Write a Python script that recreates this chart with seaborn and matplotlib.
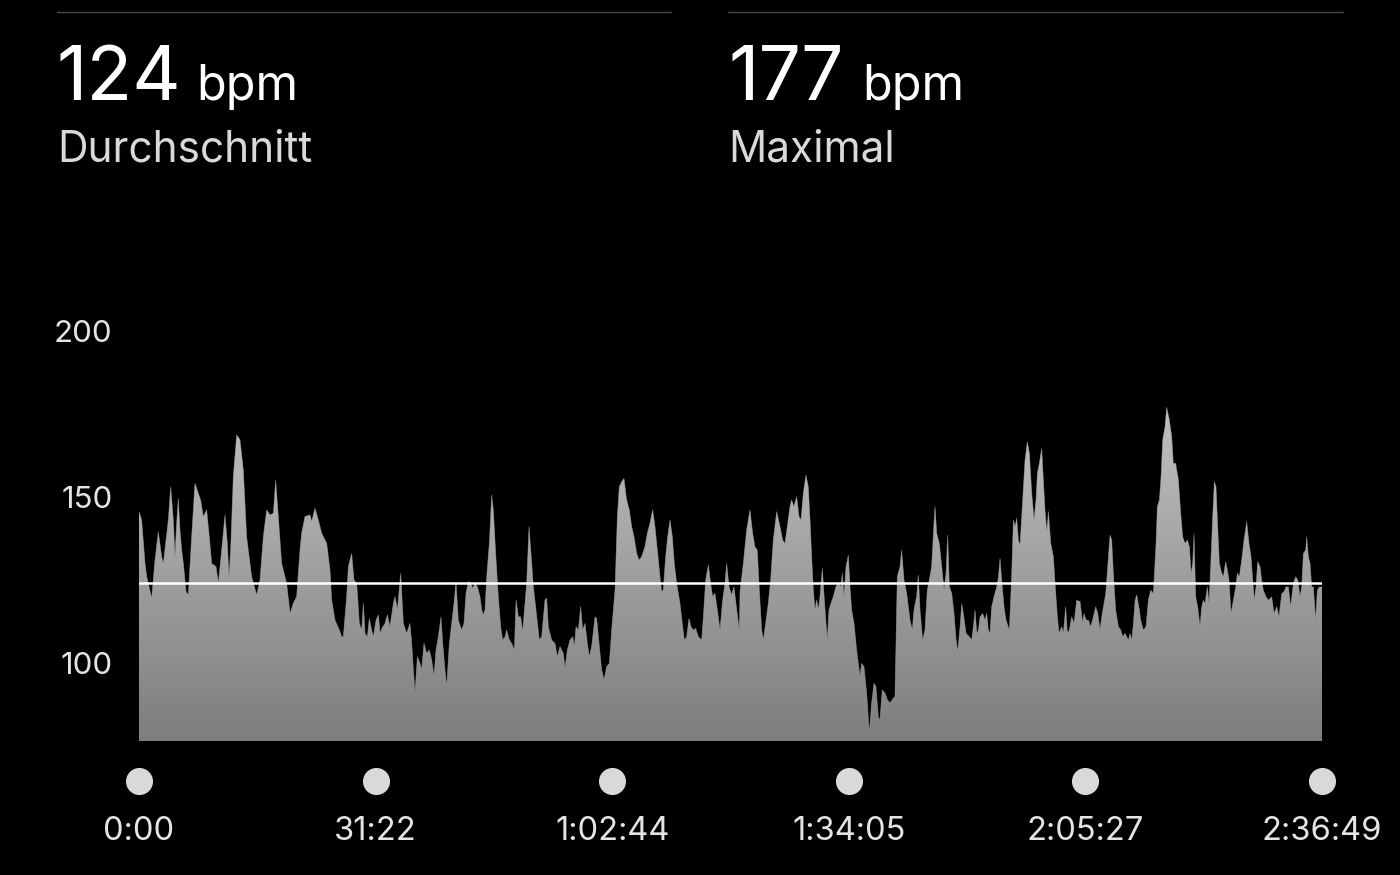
import matplotlib.pyplot as plt
import seaborn as sns
import numpy as np
import pandas as pd
from matplotlib.colors import LinearSegmentedColormap
from matplotlib.lines import Line2D
from matplotlib.transforms import blended_transform_factory

sns.set_theme(style="dark")
plt.rcParams['font.family'] = ['Inter', 'DejaVu Sans']

# Heart rate samples (time in minutes, bpm)
minutes = [
    0.0, 0.35, 0.8, 1.02, 1.68, 2.12, 2.56, 3.0, 3.23, 3.58,
    3.89, 4.2, 4.55, 4.77, 4.99, 5.21, 5.43, 5.66, 5.88, 6.23,
    6.54, 6.98, 7.42, 7.86, 8.17, 8.53, 8.97, 9.32, 9.63, 10.21,
    10.52, 10.96, 11.4, 11.71, 11.93, 12.15, 12.5, 12.95, 13.39, 13.83,
    14.27, 14.93, 15.6, 16.04, 16.48, 16.92, 17.36, 17.81, 18.12, 18.47,
    18.91, 19.57, 20.02, 20.46, 20.9, 21.34, 21.56, 22.0, 22.67, 22.89,
    23.33, 23.77, 24.21, 24.88, 25.32, 25.54, 25.98, 26.56,
    26.87, 27.09, 27.53, 27.75, 28.19, 28.5, 28.86, 29.21, 29.52, 29.74,
    29.96, 30.27, 30.53, 30.84, 31.06, 31.42, 31.73, 31.95, 32.3, 32.61,
    32.92, 33.27, 33.72, 33.94, 34.25, 34.69, 35.04, 35.48, 35.92, 36.15,
    36.37, 36.59, 36.9, 37.25, 37.47, 37.78, 38.13, 38.49, 38.8, 39.11,
    39.37, 39.68, 40.03, 40.26, 40.56, 40.79, 41.14, 41.45, 41.76, 42.02,
    42.33, 42.77, 43.08, 43.35, 43.66, 43.97, 44.23, 44.54, 44.85, 45.2,
    45.43, 45.65, 45.87, 46.09, 46.44, 46.75, 46.97, 47.28, 47.63, 47.94,
    48.21, 48.52, 48.74, 49.09, 49.4, 49.76, 49.98, 50.29, 50.59, 50.86,
    51.17, 51.39, 51.7, 51.96, 52.28, 52.72, 53.07,
    53.38, 53.82, 54.04, 54.26, 54.7, 55.14, 55.45, 55.81, 56.25, 56.47,
    56.78, 57.13, 57.49, 57.71, 57.93, 58.24, 58.55, 58.81, 59.12, 59.43,
    59.7, 60.0, 60.45, 60.67, 60.98, 61.33, 61.64, 62.0, 62.35, 62.66,
    63.1, 63.41, 63.67, 63.98, 64.29, 64.64, 65.0, 65.31, 65.62, 65.97,
    66.28, 66.63, 67.07, 67.38, 67.74, 68.09, 68.4, 68.71, 69.06, 69.28,
    69.5, 69.81, 70.08, 70.39, 70.7, 70.96, 71.27, 71.71, 72.07, 72.29,
    72.6, 72.91, 73.17, 73.48, 73.79, 74.14, 74.59, 74.81, 75.12, 75.47,
    75.78, 76.04, 76.35, 76.66, 77.02, 77.37, 77.68, 77.9, 78.21, 78.56,
    78.87, 79.23, 79.58,
    79.67, 80.11, 80.55, 80.99, 81.34, 81.65, 81.96, 82.23, 82.54, 82.76,
    83.07, 83.42, 83.73, 84.08, 84.53, 84.97, 85.32, 85.63, 85.94, 86.29,
    86.51, 86.82, 87.18, 87.49, 87.75, 88.06, 88.41, 88.72, 88.95, 89.17,
    89.39, 89.61, 89.83, 90.05, 90.27, 90.58, 90.85, 91.07, 91.24, 91.46,
    91.73, 92.04, 92.39, 92.7, 93.05, 93.23, 93.45, 93.72, 94.03, 94.25,
    94.47, 94.78, 95.13, 95.57, 95.79, 96.1, 96.46, 96.81, 97.12, 97.43,
    97.69, 98.0, 98.22, 98.53, 98.89, 99.2, 99.55, 99.99, 100.21, 100.52,
    100.88, 101.1, 101.41, 101.76, 102.2, 102.51, 102.73, 103.08, 103.31, 103.53,
    103.88, 104.19, 104.5, 104.76, 105.07, 105.38, 105.52, 105.74, 106.09,
    106.41, 106.72, 106.98, 107.2, 107.42, 107.73, 108.04, 108.31, 108.53, 108.84,
    109.06, 109.28, 109.63, 110.07, 110.38, 110.6, 110.83, 111.05, 111.27, 111.49,
    111.84, 112.15, 112.37, 112.59, 112.81, 113.03, 113.34, 113.7, 113.92, 114.14,
    114.36, 114.67, 114.93, 115.38, 115.69, 115.91, 116.13, 116.35, 116.57, 116.79,
    117.14, 117.45, 117.76, 118.03, 118.34, 118.65, 118.91, 119.09, 119.35, 119.66,
    119.88, 120.1, 120.33, 120.55, 120.86, 121.21, 121.43, 121.74, 121.96, 122.31,
    122.53, 122.84, 123.07, 123.33, 123.64, 123.95, 124.3, 124.74, 125.1, 125.27,
    125.54, 125.85, 126.16, 126.51, 126.82, 127.09, 127.4, 127.62, 127.84, 128.15,
    128.41, 128.72, 128.94, 129.16, 129.47, 129.83, 130.14, 130.4, 130.71, 131.15,
    131.37, 131.6, 131.82, 132.04, 132.26, 132.61,
    132.78, 133.14, 133.49, 133.8, 134.11, 134.46, 134.82, 134.99, 135.26, 135.48,
    135.7, 136.01, 136.23, 136.58, 136.89, 137.11, 137.42, 137.78, 138.09, 138.35,
    138.66, 138.97, 139.24, 139.46, 139.68, 139.85, 140.07, 140.34, 140.65, 140.87,
    141.09, 141.31, 141.62, 141.84, 142.06, 142.33, 142.55, 142.77, 142.99, 143.21,
    143.52, 143.74, 144.05, 144.27, 144.49, 144.76, 145.07, 145.38, 145.6, 145.86,
    146.17, 146.48, 146.84, 147.14, 147.41, 147.63, 147.85, 148.07, 148.29, 148.6,
    148.82, 149.04, 149.4, 149.71, 150.15, 150.46, 150.81, 151.12, 151.48, 151.79,
    152.05, 152.36, 152.67, 153.02, 153.33, 153.6, 153.91, 154.13, 154.35, 154.66,
    154.79, 155.01, 155.23, 155.45, 155.67, 155.98, 156.2, 156.47, 156.69, 156.82,
]
bpm = [
    145.6, 143.1, 130.0, 126.0, 119.5, 131.0, 139.5, 132.0, 130.0, 137.0,
    143.1, 153.1, 143.1, 132.0, 142.1, 149.6, 140.1, 134.0, 130.0, 121.5,
    120.5, 138.0, 154.1, 151.1, 149.1, 144.1, 146.1, 138.0, 130.0, 129.0,
    124.0, 134.0, 144.6, 136.0, 126.0, 134.0, 156.1, 168.7, 167.2, 158.1,
    138.0, 126.0, 120.5, 125.0, 138.0, 146.1, 144.6, 145.1, 155.1, 144.1,
    130.0, 124.0, 114.9, 118.0, 120.0, 134.0, 139.1, 144.1, 144.6, 142.6,
    146.6, 143.1, 139.1, 136.0, 128.0, 119.0, 112.9, 109.9,
    107.9, 107.9, 120.0, 129.0, 133.0, 125.0, 124.0, 111.9, 109.9, 118.0,
    108.9, 107.9, 113.4, 109.9, 107.9, 112.9, 114.5, 108.9, 110.9, 111.9,
    114.5, 110.9, 118.0, 120.0, 116.0, 127.0, 111.9, 108.9, 111.9, 105.9,
    97.9, 90.9, 101.9, 99.9, 97.9, 105.9, 102.9, 103.9, 100.9, 95.9,
    103.9, 107.9, 113.9, 105.9, 97.9, 92.9, 105.9, 111.9, 118.0, 124.5,
    112.9, 109.9, 111.9, 121.0, 124.5, 124.0, 122.5, 124.0, 123.0, 120.0,
    116.0, 114.5, 116.0, 126.0, 136.0, 150.6, 146.1, 133.0, 120.0, 110.9,
    106.9, 107.9, 109.9, 106.9, 105.9, 103.9, 119.0, 113.9, 113.9, 109.4,
    118.0, 124.0, 141.1, 133.0, 123.0, 113.9, 106.9,
    107.9, 119.0, 119.5, 110.9, 106.9, 105.9, 101.9, 104.9, 102.9, 98.4,
    103.9, 106.9, 107.9, 104.9, 110.9, 109.9, 117.0, 109.9, 111.9, 105.9,
    101.9, 104.9, 113.9, 113.4, 105.9, 97.9, 94.9, 98.9, 99.9, 109.9,
    122.0, 144.1, 153.1, 154.6, 155.6, 149.1, 146.1, 141.1, 138.0, 133.0,
    131.0, 132.0, 135.0, 139.1, 142.1, 146.1, 141.1, 134.0, 126.0, 121.5,
    122.0, 132.0, 138.0, 143.1, 138.0, 130.0, 124.0, 118.0, 110.9, 106.9,
    107.9, 113.4, 110.9, 109.9, 110.4, 107.9, 106.9, 113.9, 125.0, 129.5,
    124.0, 120.0, 121.0, 116.0, 109.9, 119.0, 124.0, 130.0, 123.0, 120.5,
    123.0, 116.0, 109.9,
    121.5, 130.0, 140.1, 146.1, 139.1, 135.0, 134.0, 122.0, 109.9, 106.9,
    111.9, 118.0, 125.0, 137.0, 145.6, 141.1, 137.0, 136.0, 141.1, 147.1,
    149.1, 147.1, 150.1, 144.1, 143.1, 151.1, 156.6, 153.1, 143.1, 132.0,
    122.0, 116.0, 119.0, 116.0, 120.0, 128.5, 119.0, 111.9, 106.9, 116.0,
    118.0, 120.0, 123.0, 124.0, 123.0, 127.0, 120.0, 129.0, 132.5, 123.0,
    116.0, 111.9, 103.9, 95.9, 99.9, 98.9, 90.9, 78.8, 87.9, 93.9,
    92.9, 83.8, 82.8, 91.9, 90.9, 88.9, 87.9, 89.4, 89.9, 126.0,
    129.0, 134.0, 125.0, 121.0, 112.9, 109.9, 116.0, 120.0, 126.5, 116.0,
    106.9, 109.9, 122.0, 125.0, 129.0, 142.1, 147.1, 139.1, 136.0,
    129.0, 122.0, 127.0, 138.5, 123.0, 121.0, 114.9, 106.9, 103.4, 110.9,
    117.9, 114.9, 108.9, 107.9, 106.9, 110.9, 115.9, 108.9, 109.9, 113.9,
    114.9, 112.9, 114.9, 109.9, 108.9, 116.9, 119.9, 122.9, 125.9, 131.5,
    124.9, 116.9, 112.9, 109.9, 127.0, 143.1, 141.0, 143.6, 137.0, 135.5,
    149.1, 161.1, 166.6, 163.1, 151.1, 143.1, 149.1, 157.1, 160.1, 164.6,
    155.1, 146.1, 139.5, 145.6, 136.0, 132.0, 124.0, 113.9, 108.9, 110.9,
    108.9, 116.9, 108.9, 109.9, 113.9, 111.9, 118.9, 118.5, 111.9, 114.9,
    112.9, 112.9, 110.9, 113.9, 116.9, 114.9, 109.9, 113.9, 116.9, 120.9,
    129.0, 138.5, 137.0, 127.0, 115.9, 110.9, 109.9, 107.9, 108.9, 106.9,
    108.9, 106.9, 111.9, 118.9, 120.5, 115.9,
    112.9, 109.9, 110.9, 118.9, 121.9, 120.9, 136.0, 147.1, 149.1, 156.1,
    167.2, 171.2, 177.0, 173.2, 168.2, 160.1, 160.1, 155.1, 145.1, 138.0,
    136.0, 137.0, 135.0, 127.0, 130.0, 139.0, 120.0, 116.9, 110.9, 116.9,
    118.9, 117.9, 122.9, 117.9, 129.0, 144.1, 154.6, 153.1, 141.0, 130.0,
    127.0, 126.0, 130.5, 128.0, 125.0, 114.9, 118.9, 122.9, 127.0, 126.0,
    131.0, 137.0, 142.5, 136.0, 132.0, 125.0, 118.9, 122.9, 130.5, 129.0,
    125.0, 121.9, 119.9, 118.9, 119.9, 114.9, 116.9, 113.9, 120.9, 121.5,
    122.9, 122.9, 116.9, 124.0, 126.0, 125.0, 119.9, 122.9, 133.0, 134.0,
    138.0, 132.0, 130.0, 122.9, 122.9, 112.9, 121.9, 122.9, 122.9, 122.9,
]

avg_bpm = 124
max_bpm = 177
tick_minutes = [0, 31.367, 62.733, 94.083, 125.45, 156.817]
tick_labels = ['0:00', '31:22', '1:02:44', '1:34:05', '2:05:27', '2:36:49']
y_ticks = [100, 150, 200]

W, H = 1400, 875
fig = plt.figure(figsize=(W / 100, H / 100), dpi=100, facecolor='black')
ax = fig.add_axes([139 / W, 1 - 741 / H, (1322 - 139) / W, (741 - 331) / H])
ax.set_facecolor('black')

x_lo, x_hi = 0, tick_minutes[-1]
y_lo, y_hi = 76.5, 200

df = pd.DataFrame({'Minute': minutes, 'BPM': bpm})

# area shape used as a clip path for the vertical gradient
area = ax.fill_between(df['Minute'], df['BPM'], y_lo, color='none', lw=0)
grad = np.linspace(0, 1, 256).reshape(-1, 1)
cmap = LinearSegmentedColormap.from_list('hr', ['#7e7e7e', '#d0d0d0'])
img = ax.imshow(grad, cmap=cmap, extent=[x_lo, x_hi, y_lo, y_hi], origin='lower',
                aspect='auto', zorder=1, interpolation='bilinear')
img.set_clip_path(area.get_paths()[0], transform=ax.transData)

sns.lineplot(data=df, x='Minute', y='BPM', sort=False, estimator=None,
             color='#a8a8a8', lw=0.5, alpha=0.6, ax=ax, zorder=2)

ax.axhline(avg_bpm, color='white', lw=1.8, zorder=3)

ax.set_xlim(x_lo, x_hi)
ax.set_ylim(y_lo, y_hi)
ax.set_xlabel('')
ax.set_ylabel('')
for s in ax.spines.values():
    s.set_visible(False)
ax.grid(False)

ax.set_xticks(tick_minutes, tick_labels)
ax.set_yticks(y_ticks)
ax.tick_params(axis='x', length=0, pad=54, labelsize=23.5, labelcolor='#e4e4e4')
ax.tick_params(axis='y', length=0, pad=19, labelsize=22.5, labelcolor='#e4e4e4')

# grey dots above the time labels
trans = blended_transform_factory(ax.transData, ax.transAxes)
sns.scatterplot(x=tick_minutes, y=[-40 / 410] * len(tick_minutes), ax=ax,
                color='#d9d9d9', s=380, linewidth=0, transform=trans, clip_on=False)

# header
for xa, xb in [(57, 671), (728, 1343)]:
    fig.add_artist(Line2D([xa / W, xb / W], [1 - 12 / H] * 2, color='#4a4a4a', lw=1))

fig.text(57 / W, 1 - 100 / H, f'{avg_bpm}', fontsize=54, color='white', va='baseline')
fig.text(196 / W, 1 - 100 / H, 'bpm', fontsize=35, color='white', va='baseline')
fig.text(57 / W, 1 - 161 / H, 'Durchschnitt', fontsize=30.5, color='#d9d9d9', va='baseline')

fig.text(728 / W, 1 - 100 / H, f'{max_bpm}', fontsize=54, color='white', va='baseline')
fig.text(862 / W, 1 - 100 / H, 'bpm', fontsize=35, color='white', va='baseline')
fig.text(728 / W, 1 - 161 / H, 'Maximal', fontsize=30.5, color='#d9d9d9', va='baseline')

fig.savefig('out.png', dpi=100, facecolor='black')
